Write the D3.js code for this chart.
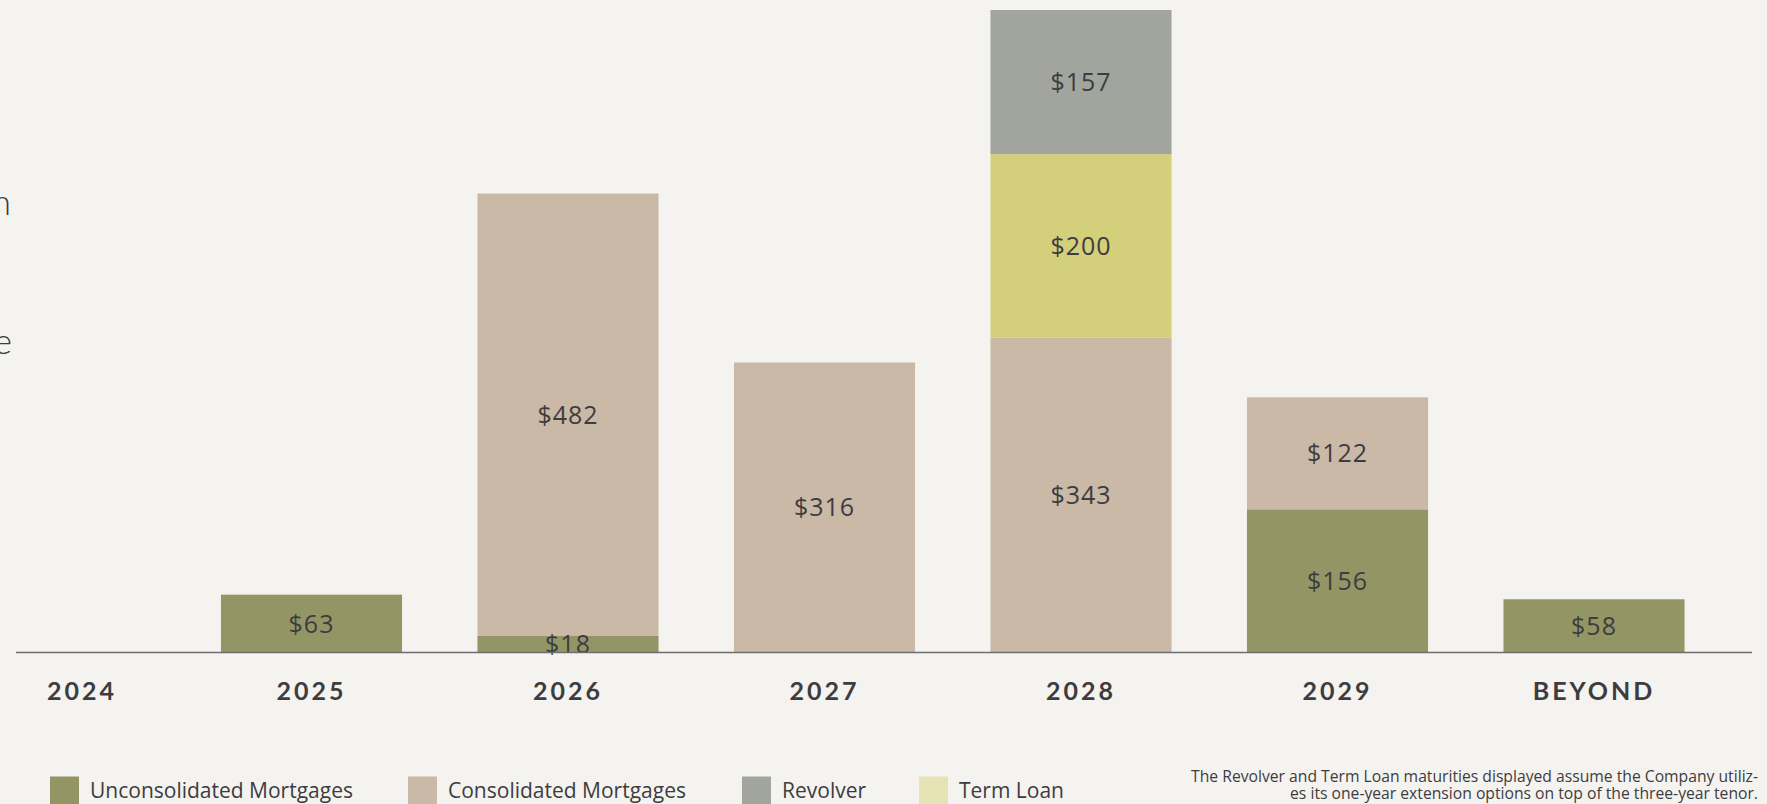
<!DOCTYPE html>
<html>
<head>
<meta charset="utf-8">
<script src="https://cdn.jsdelivr.net/npm/d3@7"></script>
<style>
  html, body { margin: 0; padding: 0; background: #f4f3ef; }
  svg { display: block; }
  text { font-family: "Open Sans", Lato, sans-serif; fill: #3d3c40; }
</style>
</head>
<body>
<svg id="chart" width="1767" height="804"></svg>
<script>
// Debt maturity schedule ($ millions)
const categories = ["2024", "2025", "2026", "2027", "2028", "2029", "BEYOND"];
const unconsolidated = [0, 63, 18, 0, 0, 156, 58];
const consolidated   = [0, 0, 482, 316, 343, 122, 0];
const termLoan       = [0, 0, 0, 0, 200, 0, 0];
const revolver       = [0, 0, 0, 0, 157, 0, 0];

const seriesNames = ["Unconsolidated Mortgages", "Consolidated Mortgages", "Term Loan", "Revolver"];
const legendOrder = ["Unconsolidated Mortgages", "Consolidated Mortgages", "Revolver", "Term Loan"];
const footnoteLines = [
  "The Revolver and Term Loan maturities displayed assume the Company utiliz-",
  "es its one-year extension options on top of the three-year tenor."
];

const barColor = {
  "Unconsolidated Mortgages": "#939664",
  "Consolidated Mortgages": "#c9b9a6",
  "Term Loan": "#d4cf7a",
  "Revolver": "#a2a59e"
};
const swatchColor = {
  "Unconsolidated Mortgages": "#939664",
  "Consolidated Mortgages": "#c9b9a6",
  "Revolver": "#a2a59e",
  "Term Loan": "#e6e3b5"
};

const rows = categories.map((c, i) => ({
  year: c,
  "Unconsolidated Mortgages": unconsolidated[i],
  "Consolidated Mortgages": consolidated[i],
  "Term Loan": termLoan[i],
  "Revolver": revolver[i]
}));

const svg = d3.select("#chart");

const x = d3.scaleBand()
  .domain(categories)
  .range([-73.25, 1722.25])
  .paddingInner(0.294)
  .paddingOuter(0.147);

const y = d3.scaleLinear().domain([0, 700]).range([652.5, 10]);

const stacked = d3.stack().keys(seriesNames)(rows);

// Partial copy from the neighbouring text column, clipped by the left edge
const side = svg.append("g");
side.append("text").attr("x", 11).attr("y", 215).attr("text-anchor", "end")
  .style("font-family", "Lato, sans-serif")
  .style("font-size", "35px").style("font-weight", 300).text("n");
side.append("text").attr("x", 12).attr("y", 354).attr("text-anchor", "end")
  .style("font-family", "Lato, sans-serif")
  .style("font-size", "35px").style("font-weight", 300).text("e");

// Stacked bars
const layers = svg.append("g").selectAll("g")
  .data(stacked).join("g")
  .attr("fill", d => barColor[d.key]);

layers.selectAll("rect")
  .data(d => d.filter(s => s[1] - s[0] > 0))
  .join("rect")
  .attr("x", d => x(d.data.year))
  .attr("width", x.bandwidth())
  .attr("y", d => y(d[1]))
  .attr("height", d => y(d[0]) - y(d[1]));

// Segment value labels
const labels = svg.append("g");
stacked.forEach(layer => {
  layer.filter(s => s[1] - s[0] > 0).forEach(s => {
    labels.append("text")
      .attr("x", x(s.data.year) + x.bandwidth() / 2)
      .attr("y", (y(s[0]) + y(s[1])) / 2)
      .attr("dy", "0.36em")
      .attr("text-anchor", "middle")
      .style("font-size", "25px")
      .style("letter-spacing", "1px")
      .text("$" + (s[1] - s[0]));
  });
});

// Baseline
svg.append("line")
  .attr("x1", 16).attr("x2", 1752)
  .attr("y1", y(0)).attr("y2", y(0))
  .attr("stroke", "#6e6e6e").attr("stroke-width", 1.6);

// Category axis
const axis = svg.append("g")
  .attr("transform", `translate(0,${y(0)})`)
  .call(d3.axisBottom(x).tickSize(0).tickPadding(0));
axis.select(".domain").remove();
axis.selectAll("text")
  .attr("y", 47)
  .attr("dy", 0)
  .style("font-family", "Lato, sans-serif")
  .style("font-size", "25px")
  .style("font-weight", 700)
  .style("letter-spacing", "3px")
  .style("fill", "#3d3c40");
// keep the first label inside the left margin
axis.selectAll(".tick text").each(function () {
  const b = this.getBBox();
  const tx = +d3.select(this.parentNode).attr("transform").match(/translate\(([-\d.]+)/)[1];
  if (tx + b.x < 47) d3.select(this).attr("x", 47 - (tx + b.x));
});

// Legend
const legend = svg.append("g");
const legendX = [50, 408, 742, 919];
legendOrder.forEach((name, i) => {
  legend.append("rect")
    .attr("x", legendX[i]).attr("y", 776.5)
    .attr("width", 29).attr("height", 30)
    .attr("fill", swatchColor[name]);
  legend.append("text")
    .attr("x", legendX[i] + 40).attr("y", 797.5)
    .style("font-size", "21px")
    .text(name);
});

// Footnote
svg.append("g").selectAll("text")
  .data(footnoteLines).join("text")
  .attr("x", 1758)
  .attr("y", (d, i) => 781.5 + i * 17)
  .attr("text-anchor", "end")
  .style("font-size", "15.7px")
  .text(d => d);
</script>
</body>
</html>
